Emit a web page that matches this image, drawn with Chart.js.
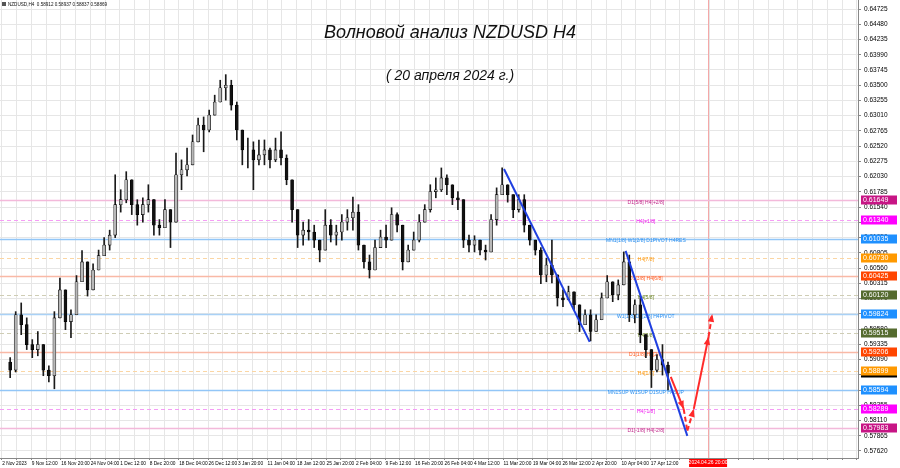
<!DOCTYPE html>
<html>
<head>
<meta charset="utf-8">
<script src="https://cdn.jsdelivr.net/npm/chart.js@4.4.1/dist/chart.umd.min.js"></script>
<style>
    html, body { margin: 0; padding: 0; background: #ffffff; }
    #wrap { width: 900px; height: 468px; position: relative; }
</style>
</head>
<body>
<div id="wrap"><canvas id="chart" width="900" height="468"></canvas></div>
<script>
// NZDUSD H4, one candle per trading day (6 H4 bars)
const highs = [
    0.5912, 0.5986, 0.6000, 0.5976, 0.5941, 0.5954, 0.5912, 0.5899, 0.5986, 0.6040,
    0.6021, 0.5989, 0.6044, 0.6084, 0.6061, 0.6063, 0.6085, 0.6105, 0.6117, 0.6206,
    0.6182, 0.6211, 0.6193, 0.6166, 0.6169, 0.6190, 0.6158, 0.6134, 0.6166, 0.6142,
    0.6241, 0.6230, 0.6249, 0.6270, 0.6297, 0.6299, 0.6310, 0.6334, 0.6358, 0.6367,
    0.6358, 0.6323, 0.6278, 0.6265, 0.6259, 0.6262, 0.6262, 0.6249, 0.6265, 0.6275,
    0.6238, 0.6198, 0.6142, 0.6130, 0.6134, 0.6125, 0.6101, 0.6150, 0.6134, 0.6125,
    0.6142, 0.6150, 0.6170, 0.6158, 0.6089, 0.6077, 0.6101, 0.6117, 0.6125, 0.6153,
    0.6145, 0.6101, 0.6093, 0.6114, 0.6142, 0.6158, 0.6190, 0.6201, 0.6217, 0.6206,
    0.6185, 0.6179, 0.6166, 0.6109, 0.6108, 0.6101, 0.6093, 0.6142, 0.6185, 0.6217,
    0.6190, 0.6174, 0.6174, 0.6174, 0.6121, 0.6101, 0.6089, 0.6072, 0.6101, 0.6037,
    0.6021, 0.6027, 0.6011, 0.5986, 0.5989, 0.5989, 0.5981, 0.6016, 0.6044, 0.6029,
    0.6037, 0.6082, 0.6077, 0.6005, 0.6011, 0.5949, 0.5917, 0.5917, 0.5933, 0.5905
];
const lows = [
    0.5880, 0.5889, 0.5949, 0.5925, 0.5912, 0.5915, 0.5883, 0.5873, 0.5862, 0.5997,
    0.5957, 0.5944, 0.6002, 0.6045, 0.6011, 0.6034, 0.6056, 0.6076, 0.6085, 0.6105,
    0.6146, 0.6161, 0.6142, 0.6125, 0.6130, 0.6146, 0.6109, 0.6109, 0.6137, 0.6089,
    0.6134, 0.6182, 0.6204, 0.6238, 0.6262, 0.6243, 0.6275, 0.6302, 0.6326, 0.6326,
    0.6310, 0.6262, 0.6222, 0.6217, 0.6182, 0.6222, 0.6222, 0.6217, 0.6227, 0.6222,
    0.6190, 0.6130, 0.6089, 0.6093, 0.6101, 0.6089, 0.6066, 0.6101, 0.6098, 0.6093,
    0.6101, 0.6117, 0.6117, 0.6085, 0.6056, 0.6040, 0.6056, 0.6093, 0.6089, 0.6101,
    0.6114, 0.6053, 0.6069, 0.6085, 0.6098, 0.6130, 0.6146, 0.6169, 0.6179, 0.6174,
    0.6158, 0.6150, 0.6089, 0.6082, 0.6082, 0.6077, 0.6069, 0.6098, 0.6125, 0.6174,
    0.6162, 0.6137, 0.6146, 0.6114, 0.6093, 0.6077, 0.6031, 0.6034, 0.6032, 0.5995,
    0.5994, 0.6005, 0.5989, 0.5954, 0.5970, 0.5939, 0.5957, 0.5976, 0.6013, 0.6002,
    0.6005, 0.6034, 0.5970, 0.5968, 0.5936, 0.5912, 0.5864, 0.5889, 0.5884, 0.5860
];
const closes = [
    0.5892, 0.5981, 0.5965, 0.5933, 0.5925, 0.5933, 0.5892, 0.5883, 0.5976, 0.6021,
    0.5970, 0.5981, 0.6034, 0.6066, 0.6021, 0.6053, 0.6076, 0.6093, 0.6109, 0.6158,
    0.6166, 0.6198, 0.6158, 0.6142, 0.6158, 0.6166, 0.6125, 0.6121, 0.6150, 0.6130,
    0.6206, 0.6214, 0.6222, 0.6259, 0.6286, 0.6278, 0.6302, 0.6323, 0.6346, 0.6350,
    0.6318, 0.6278, 0.6246, 0.6246, 0.6230, 0.6238, 0.6246, 0.6230, 0.6246, 0.6233,
    0.6198, 0.6150, 0.6109, 0.6117, 0.6114, 0.6101, 0.6085, 0.6125, 0.6109, 0.6114,
    0.6130, 0.6137, 0.6146, 0.6093, 0.6066, 0.6053, 0.6089, 0.6106, 0.6101, 0.6142,
    0.6125, 0.6066, 0.6085, 0.6101, 0.6130, 0.6150, 0.6179, 0.6182, 0.6201, 0.6190,
    0.6169, 0.6166, 0.6101, 0.6093, 0.6101, 0.6085, 0.6082, 0.6134, 0.6174, 0.6190,
    0.6174, 0.6150, 0.6166, 0.6125, 0.6101, 0.6085, 0.6045, 0.6061, 0.6045, 0.6008,
    0.6005, 0.6018, 0.5997, 0.5965, 0.5981, 0.5954, 0.5973, 0.6008, 0.6034, 0.6013,
    0.6029, 0.6066, 0.5981, 0.5997, 0.5949, 0.5925, 0.5892, 0.5909, 0.5900, 0.58869
];
const firstOpen = 0.5905;

// last H4 bar shown in the header: open, high, low, close
const headerSymbol = 'NZDUSD,H4';
const headerValues = [0.58912, 0.58937, 0.58837, 0.58869];

const timeLabels = [
    '2 Nov 2023', '9 Nov 12:00', '16 Nov 20:00', '24 Nov 04:00', '1 Dec 12:00',
    '8 Dec 20:00', '18 Dec 04:00', '26 Dec 12:00', '3 Jan 20:00', '11 Jan 04:00',
    '18 Jan 12:00', '25 Jan 20:00', '2 Feb 04:00', '9 Feb 12:00', '16 Feb 20:00',
    '26 Feb 04:00', '4 Mar 12:00', '11 Mar 20:00', '19 Mar 04:00', '26 Mar 12:00',
    '2 Apr 20:00', '10 Apr 04:00', '17 Apr 12:00'
];
const priceTicks = [
    0.64725, 0.64480, 0.64235, 0.63990, 0.63745, 0.63500, 0.63255, 0.63010, 0.62765, 0.62520,
    0.62275, 0.62030, 0.61785, 0.61540, 0.61295, 0.61050, 0.60805, 0.60560, 0.60315, 0.60070,
    0.59825, 0.59580, 0.59335, 0.59090, 0.58845, 0.58600, 0.58355, 0.58110, 0.57865, 0.57620
];

// Murrey / pivot levels
const levelPrices = [0.61649, 0.61340, 0.61035, 0.60730, 0.60425, 0.60120, 0.59824,
    0.59515, 0.59206, 0.58899, 0.58594, 0.58289, 0.57983];
const levelNames = ['D1[5/8] H4[+2/8]', 'H4[+1/8]', 'MN1[1/8] W1[2/8] D1PIVOT H4RES', 'H4[7/8]',
    'D1[3/8] H4[6/8]', 'H4[5/8]', 'W1[1/8] D1[2/8] H4PIVOT', 'H4[3/8]', 'D1[1/8] H4[2/8]',
    'H4[1/8]', 'MN1SUP W1SUP D1SUP H4SUP', 'H4[-1/8]', 'D1[-1/8] H4[-2/8]'];
const levelColors = ['#c71585', '#ff00ff', '#1e90ff', '#ff9900', '#ff4500', '#556b2f', '#1e90ff',
    '#556b2f', '#ff4500', '#ff9900', '#1e90ff', '#ff00ff', '#c71585'];
const levelTextColors = ['#c0288a', '#f020f0', '#2a8ff0', '#ff9a10', '#ff5a20', '#6f8a2a', '#2a8ff0',
    '#6f8a2a', '#ff5a20', '#ff9a10', '#2a8ff0', '#f020f0', '#c0288a'];
const levelLineColors = ['#f3b9da', '#f59df5', '#92c6f7', '#fbd6a4', '#f9b9a6', '#cfcdb5', '#a9d1f6',
    '#cfcdb5', '#f9b9a6', '#fbd6a4', '#92c6f7', '#f59df5', '#f3b9da'];
const levelDashed = [false, true, false, true, false, true, false, true, false, true, false, true, false];

// trend lines [bar, price]
const trend1 = [[539, 0.62154], [632, 0.59374]];
const trend2 = [[671, 0.60836], [738, 0.57863]];

// forecast wave
const waveBars = [720, 734, 738, 745, 761, 765];
const wavePrices = [0.58812, 0.58297, 0.57944, 0.58297, 0.59454, 0.59824];
const waveDashed = [false, true, true, false, true];
const waveArrow = [true, false, true, true, true];

const futureBar = 760.5;
const futureLabel = '2024.04.26 20:00';

const BARS_PER_CANDLE = 6;
const PX_PER_BAR = 0.9375;
const LABEL_BAR = 693;

const wicks = [];
const bodies = [];
const bodyColors = [];
closes.forEach((c, k) => {
    const o = k === 0 ? firstOpen : closes[k - 1];
    const x = k * BARS_PER_CANDLE + 3;
    wicks.push({ x: x, y: [Math.min(lows[k], o, c), Math.max(highs[k], o, c)] });
    bodies.push({ x: x, y: [o, c] });
    bodyColors.push(c >= o ? '#b8b8b8' : '#111111');
});

function lineSet(points, color, dashed) {
    return {
        type: 'line',
        data: points.map((p) => ({ x: p[0], y: p[1] })),
        borderColor: color,
        borderWidth: 2,
        borderDash: dashed ? [5, 3] : [],
        pointRadius: 0,
        order: 0
    };
}

const waveSets = waveDashed.map((d, i) => lineSet(
    [[waveBars[i], wavePrices[i]], [waveBars[i + 1], wavePrices[i + 1]]], '#ff2a2a', d));

const FONT = "'Liberation Sans', Arial, sans-serif";

const overlay = {
    id: 'overlay',
    beforeDatasetsDraw(chart) {
        const { ctx, chartArea: a, scales: { x, y } } = chart;
        ctx.save();
        ctx.beginPath();
        ctx.rect(a.left, a.top, a.width, a.height);
        ctx.clip();

        // future time marker
        const fx = Math.round(x.getPixelForValue(futureBar)) + 0.5;
        ctx.strokeStyle = '#f4a8a8';
        ctx.lineWidth = 1;
        ctx.beginPath();
        ctx.moveTo(fx, a.top);
        ctx.lineTo(fx, a.bottom);
        ctx.stroke();

        levelPrices.forEach((p, i) => {
            const py = Math.round(y.getPixelForValue(p)) + 0.5;
            ctx.strokeStyle = levelLineColors[i];
            ctx.lineWidth = levelDashed[i] ? 1 : 1.6;
            ctx.setLineDash(levelDashed[i] ? [4, 3] : []);
            ctx.beginPath();
            ctx.moveTo(a.left, py);
            ctx.lineTo(a.right, py);
            ctx.stroke();
        });
        ctx.setLineDash([]);

        const lx = x.getPixelForValue(LABEL_BAR);
        ctx.font = '5px ' + FONT;
        ctx.textAlign = 'center';
        ctx.textBaseline = 'middle';
        levelPrices.forEach((p, i) => {
            ctx.fillStyle = levelTextColors[i];
            ctx.fillText(levelNames[i], lx, y.getPixelForValue(p) + 2.5);
        });
        ctx.restore();
    },
    afterDatasetsDraw(chart) {
        const { ctx, scales: { x, y } } = chart;
        ctx.save();
        ctx.fillStyle = '#ff2a2a';
        waveArrow.forEach((hasArrow, i) => {
            if (!hasArrow) return;
            const x0 = x.getPixelForValue(waveBars[i]);
            const y0 = y.getPixelForValue(wavePrices[i]);
            const x1 = x.getPixelForValue(waveBars[i + 1]);
            const y1 = y.getPixelForValue(wavePrices[i + 1]);
            const ang = Math.atan2(y1 - y0, x1 - x0);
            const len = 8;
            const half = 3.2;
            ctx.beginPath();
            ctx.moveTo(x1, y1);
            ctx.lineTo(x1 - len * Math.cos(ang) + half * Math.sin(ang), y1 - len * Math.sin(ang) - half * Math.cos(ang));
            ctx.lineTo(x1 - len * Math.cos(ang) - half * Math.sin(ang), y1 - len * Math.sin(ang) + half * Math.cos(ang));
            ctx.closePath();
            ctx.fill();
        });
        ctx.restore();
    },
    afterDraw(chart) {
        const { ctx, chartArea: a, scales: { x, y } } = chart;
        ctx.save();

        // titles
        ctx.fillStyle = '#111';
        ctx.textAlign = 'center';
        ctx.textBaseline = 'middle';
        ctx.font = 'italic 18px ' + FONT;
        ctx.fillText('Волновой анализ NZDUSD H4', 450, 33);
        ctx.font = 'italic 14px ' + FONT;
        ctx.fillText('( 20 апреля 2024 г.)', 450, 76);

        // header
        ctx.font = '4.6px ' + FONT;
        ctx.textAlign = 'left';
        ctx.fillText(headerSymbol + '  ' + headerValues.map((v) => v.toFixed(5)).join(' '), 8, 4.5);
        ctx.fillStyle = '#555';
        ctx.fillRect(2, 2, 4, 4);

        // price boxes on the axis
        ctx.font = '7px ' + FONT;
        const box = (p, color) => {
            const py = Math.round(y.getPixelForValue(p));
            ctx.fillStyle = color;
            ctx.fillRect(a.right + 3, py - 4.5, 36, 9);
            ctx.fillStyle = '#ffffff';
            ctx.fillText(p.toFixed(5), a.right + 5, py + 0.5);
        };
        box(headerValues[3], '#000000');
        levelPrices.forEach((p, i) => box(p, levelColors[i]));

        // future time box
        const fx = x.getPixelForValue(futureBar);
        ctx.font = '5px ' + FONT;
        ctx.fillStyle = '#ff0000';
        ctx.fillRect(fx - 19, a.bottom + 1, 38, 8);
        ctx.fillStyle = '#ffffff';
        ctx.textAlign = 'center';
        ctx.fillText(futureLabel, fx, a.bottom + 5);
        ctx.restore();
    }
};

new Chart(document.getElementById('chart'), {
    type: 'bar',
    data: {
        datasets: [
            lineSet(trend1, '#1f3fe0', false),
            lineSet(trend2, '#1f3fe0', false),
            ...waveSets,
            {
                data: bodies,
                backgroundColor: bodyColors,
                borderColor: '#000000',
                borderWidth: 0.6,
                borderSkipped: false,
                barThickness: 3,
                grouped: false,
                order: 1
            },
            {
                data: wicks,
                backgroundColor: '#1a1a1a',
                barThickness: 1,
                grouped: false,
                order: 2
            }
        ]
    },
    options: {
        responsive: false,
        animation: false,
        layout: { padding: 0 },
        plugins: { legend: { display: false }, tooltip: { enabled: false } },
        scales: {
            x: {
                type: 'linear',
                min: 0,
                max: 858 / PX_PER_BAR,
                afterBuildTicks: (s) => {
                    const t = [];
                    for (let b = 2; b < 858 / PX_PER_BAR; b += 16) t.push({ value: b });
                    s.ticks = t;
                },
                afterFit: (s) => { s.height = 10; s.paddingLeft = 0; s.paddingRight = 0; },
                ticks: {
                    autoSkip: false,
                    maxRotation: 0,
                    align: 'start',
                    labelOffset: -7,
                    padding: 1,
                    color: '#000',
                    font: { size: 4.8, family: FONT },
                    callback: (v, i) => (i % 2 === 0 && timeLabels[i / 2]) ? timeLabels[i / 2] : ''
                },
                grid: { color: '#e6e6e6', tickLength: 2, tickColor: '#888' },
                border: { color: '#888' }
            },
            y: {
                type: 'linear',
                position: 'right',
                min: 0.57507,
                max: 0.64870,
                afterBuildTicks: (s) => { s.ticks = priceTicks.map((v) => ({ value: v })); },
                afterFit: (s) => { s.width = 42; s.paddingTop = 0; s.paddingBottom = 0; },
                ticks: {
                    padding: 3,
                    color: '#000',
                    font: { size: 6.5, family: FONT },
                    callback: (v) => v.toFixed(5)
                },
                grid: { color: '#e6e6e6', tickLength: 3, tickColor: '#888' },
                border: { color: '#888' }
            }
        }
    },
    plugins: [overlay]
});
</script>
</body>
</html>
